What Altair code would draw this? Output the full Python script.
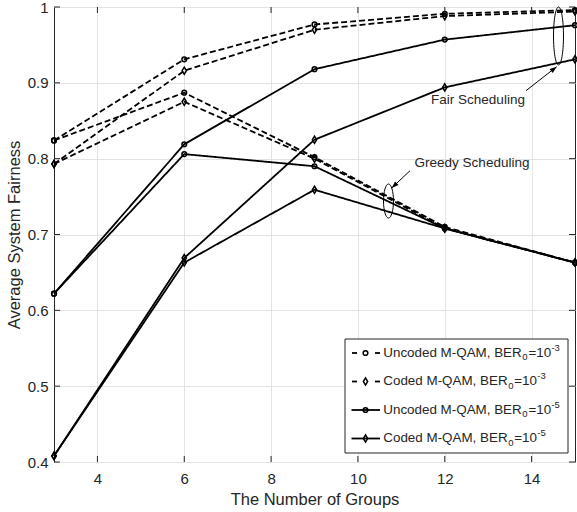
import altair as alt
import pandas as pd

# ---------------- data ----------------
groups = [3, 6, 9, 12, 15]
fair_uncoded_1e3 = [0.824, 0.931, 0.977, 0.991, 0.996]
fair_coded_1e3 = [0.793, 0.916, 0.970, 0.988, 0.994]
fair_uncoded_1e5 = [0.622, 0.819, 0.918, 0.957, 0.976]
fair_coded_1e5 = [0.408, 0.669, 0.825, 0.894, 0.931]
greedy_uncoded_1e3 = [0.824, 0.887, 0.802, 0.710, 0.663]
greedy_coded_1e3 = [0.793, 0.875, 0.800, 0.708, 0.663]
greedy_uncoded_1e5 = [0.622, 0.806, 0.790, 0.708, 0.663]
greedy_coded_1e5 = [0.408, 0.663, 0.759, 0.708, 0.663]

x_ticks = [4, 6, 8, 10, 12, 14]
y_ticks = [0.4, 0.5, 0.6, 0.7, 0.8, 0.9, 1.0]

legend_main = ["Uncoded M-QAM, BER", "Coded M-QAM, BER",
               "Uncoded M-QAM, BER", "Coded M-QAM, BER"]
legend_sub = ["0", "0", "0", "0"]
legend_mid = ["=10", "=10", "=10", "=10"]
legend_sup = ["-3", "-3", "-5", "-5"]
legend_code = ["Uncoded", "Coded", "Uncoded", "Coded"]
legend_ber = ["1e-3", "1e-3", "1e-5", "1e-5"]

series = [
    ("Fair", "Uncoded", "1e-3", fair_uncoded_1e3),
    ("Fair", "Coded", "1e-3", fair_coded_1e3),
    ("Fair", "Uncoded", "1e-5", fair_uncoded_1e5),
    ("Fair", "Coded", "1e-5", fair_coded_1e5),
    ("Greedy", "Uncoded", "1e-3", greedy_uncoded_1e3),
    ("Greedy", "Coded", "1e-3", greedy_coded_1e3),
    ("Greedy", "Uncoded", "1e-5", greedy_uncoded_1e5),
    ("Greedy", "Coded", "1e-5", greedy_coded_1e5),
]
rows = []
for sched, code, ber, vals in series:
    for g, v in zip(groups, vals):
        rows.append({"groups": g, "fairness": v, "series": f"{sched}-{code}-{ber}",
                     "code": code, "ber": ber})
df = pd.DataFrame(rows)

# ---------------- styles ----------------
W, H = 521, 455
DARK = "#262626"
GRID = "#e3e3e3"
DIAMOND = "M0,-1L0.6,0L0,1L-0.6,0Z"
DASH = [6, 3]
LW = 1.8
MW = 1.5
CIRC_SIZE, DIA_SIZE = 22, 52
dash_scale = alt.Scale(domain=["1e-3", "1e-5"], range=[DASH, [1, 0]])
shape_scale = alt.Scale(domain=["Uncoded", "Coded"], range=["circle", DIAMOND])
size_scale = alt.Scale(domain=["Uncoded", "Coded"], range=[CIRC_SIZE, DIA_SIZE])

xscale = alt.Scale(domain=[3, 15], nice=False, zero=False)
yscale = alt.Scale(domain=[0.4, 1.0], nice=False, zero=False)

x_axis = alt.Axis(values=x_ticks, grid=True, gridColor=GRID, ticks=False, domain=False,
                  labelFontSize=15, labelColor=DARK, labelPadding=9,
                  title="The Number of Groups", titleFontSize=16.5, titleFontWeight="normal",
                  titleColor=DARK, titleY=37.5, titleBaseline="middle")
y_axis = alt.Axis(values=y_ticks, grid=True, gridColor=GRID, ticks=False, domain=False,
                  format="~g", labelFontSize=15, labelColor=DARK, labelPadding=6,
                  title="Average System Fairness", titleFontSize=16.5, titleFontWeight="normal",
                  titleColor=DARK, titleX=-39.5, titleBaseline="middle")

X = alt.X("groups:Q", scale=xscale, axis=x_axis, title="The Number of Groups")
Y = alt.Y("fairness:Q", scale=yscale, axis=y_axis, title="Average System Fairness")

base = alt.Chart(df).encode(x=X, y=Y)

lines = base.mark_line(color="black", strokeWidth=LW).encode(
    detail="series:N",
    strokeDash=alt.StrokeDash("ber:N", scale=dash_scale, legend=None),
)
points = base.mark_point(filled=False, color="black", strokeWidth=MW, opacity=1).encode(
    shape=alt.Shape("code:N", scale=shape_scale, legend=None),
    size=alt.Size("code:N", scale=size_scale, legend=None),
)

# inward ticks on all four sides
TL = 6
xt = pd.DataFrame({"groups": x_ticks})
yt = pd.DataFrame({"fairness": y_ticks})
tick_layers = []
for (y1, y2) in [(H, H - TL), (0, TL)]:
    tick_layers.append(alt.Chart(xt).mark_rule(color=DARK, strokeWidth=1).encode(
        x=X, y=alt.value(y1), y2=alt.value(y2)))
for (x1, x2) in [(0, TL), (W - TL, W)]:
    tick_layers.append(alt.Chart(yt).mark_rule(color=DARK, strokeWidth=1).encode(
        y=Y, x=alt.value(x1), x2=alt.value(x2)))

one = pd.DataFrame({"k": [0]})

# annotations: ellipses, arrows, texts
def ellipse(cx, cy, w, h):
    rx = w / h
    path = f"M0,-1A{rx:.3f},1 0 1,0 0,1A{rx:.3f},1 0 1,0 0,-1Z"
    return alt.Chart(one).mark_point(shape=path, size=h * h, filled=False, color="black",
                                     strokeWidth=1, opacity=1).encode(
        x=alt.value(cx), y=alt.value(cy))

HEAD = "M0,0L0.36,1L-0.36,1Z"
def arrow(x1, y1, x2, y2, ang):
    r = alt.Chart(one).mark_rule(color="black", strokeWidth=1).encode(
        x=alt.value(x1), y=alt.value(y1), x2=alt.value(x2), y2=alt.value(y2))
    h = alt.Chart(one).mark_point(shape=HEAD, size=196, filled=True, color="black",
                                  opacity=1, angle=ang, strokeWidth=0).encode(
        x=alt.value(x2), y=alt.value(y2))
    return [r, h]

def text_at(txt, x, y, size, align="left", baseline="alphabetic"):
    return alt.Chart(one).mark_text(text=txt, fontSize=size, color=DARK, align=align,
                                    baseline=baseline).encode(x=alt.value(x), y=alt.value(y))

annots = [
    ellipse(504.5, 29, 10, 58),
    ellipse(334.5, 194, 10, 34),
    *arrow(472, 83.7, 502.7, 59.7, 52),
    *arrow(356, 163.7, 337.7, 181, 227),
    text_at("Fair Scheduling", 424, 93, 13.5, "center", "middle"),
    text_at("Greedy Scheduling", 418, 156, 13.5, "center", "middle"),
]

# Arial / Liberation Sans advance widths (em) for legend layout
EM = {"U": .722, "n": .556, "c": .5, "o": .556, "d": .556, "e": .556, " ": .278,
      "M": .833, "-": .333, "Q": .778, "A": .667, ",": .278, "B": .667, "E": .667,
      "R": .722, "C": .722, "=": .584, "0": .556, "1": .556}
def tw(s, fs):
    return sum(EM.get(ch, .556) for ch in s) * fs

# legend
FS, FS_SMALL = 13.4, 9.5
LX0, LX1, LY0, LY1 = 291, 514, 332, 446
row_y = [345, 373.5, 402, 430.5]
TX = 329.3
legend_layers = [alt.Chart(one).mark_rect(fill="white", stroke=DARK, strokeWidth=1).encode(
    x=alt.value(LX0), x2=alt.value(LX1), y=alt.value(LY0), y2=alt.value(LY1))]
for main, sub, mid, sup, code, ber, ry in zip(legend_main, legend_sub, legend_mid, legend_sup,
                                              legend_code, legend_ber, row_y):
    ly = ry + 1
    if ber == "1e-3":
        segs = [(298, 303), (321, 326)]
    else:
        segs = [(297.5, 326)]
    for a, b in segs:
        legend_layers.append(alt.Chart(one).mark_rule(color="black", strokeWidth=LW).encode(
            x=alt.value(a), x2=alt.value(b), y=alt.value(ly)))
    legend_layers.append(alt.Chart(one).mark_point(
        shape="circle" if code == "Uncoded" else DIAMOND,
        size=CIRC_SIZE if code == "Uncoded" else DIA_SIZE,
        filled=False, color="black", strokeWidth=MW, opacity=1).encode(
        x=alt.value(311.5), y=alt.value(ly)))
    base_y = ry + 4.8
    x_sub = TX + tw(main, FS) + 0.5
    x_mid = x_sub + tw(sub, FS_SMALL) + 0.8
    x_sup = x_mid + tw(mid, FS) + 0.3
    legend_layers += [
        text_at(main, TX, base_y, FS),
        text_at(sub, x_sub, base_y + 3.5, FS_SMALL),
        text_at(mid, x_mid, base_y, FS),
        text_at(sup, x_sup, base_y - 6, FS_SMALL),
    ]

chart = alt.layer(lines, points, *tick_layers, *annots, *legend_layers).properties(
    width=W, height=H,
    autosize=alt.AutoSizeParams(type="none"),
    padding={"left": 54, "top": 7, "right": 2, "bottom": 50},
).configure(font="Liberation Sans").configure_view(stroke=DARK, strokeWidth=1)

chart.save("out.html", embed_options={"renderer": "svg", "actions": False})
